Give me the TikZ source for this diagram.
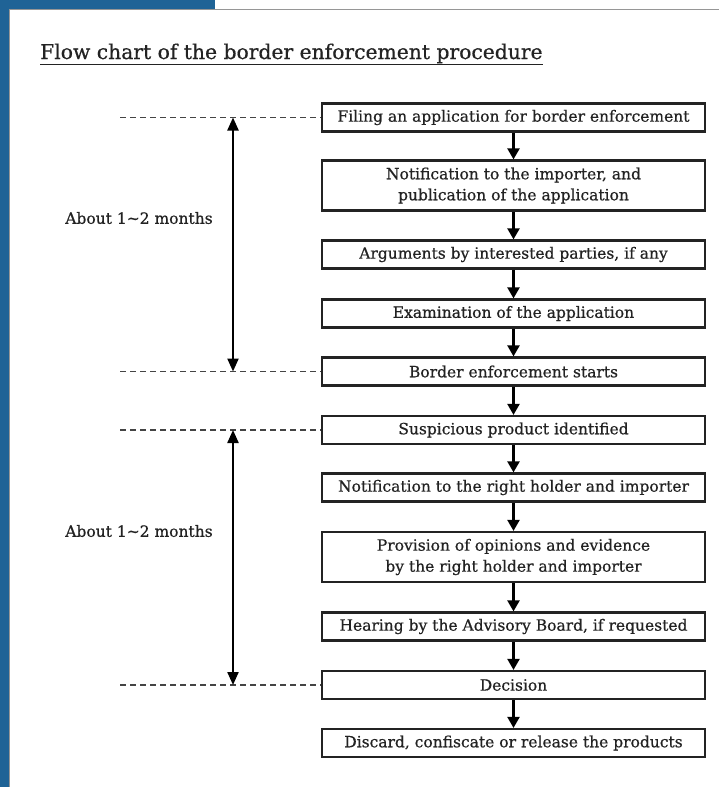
\documentclass[tikz,border=0pt]{standalone}
\usepackage{fontspec}
\setmainfont{DejaVu Serif}[BoldFont={DejaVu Serif},BoldFeatures={FakeBold=0.6}]
\usetikzlibrary{arrows.meta}
\definecolor{frameblue}{RGB}{31,99,150}
\definecolor{framegray}{RGB}{150,150,150}
\definecolor{inkgray}{RGB}{35,35,35}
\tikzset{
  stepbox/.style={draw=inkgray, line width=2.2pt, fill=white, minimum width=383pt,
    inner sep=0pt, align=center, font=\fontsize{15.5}{21}\selectfont\bfseries, text=inkgray},
  onebox/.style={stepbox, minimum height=28pt},
  twobox/.style={stepbox, minimum height=50pt},
  flow/.style={line width=2.2pt, -{Triangle[width=12pt,length=11pt]}},
  span/.style={line width=2.2pt, {Triangle[width=11pt,length=13pt]}-{Triangle[width=11pt,length=13pt]}},
  guide/.style={draw=inkgray!85, line width=1.5pt, dash pattern=on 6pt off 4pt},
  sidelabel/.style={font=\fontsize{15.5}{17}\selectfont\bfseries, text=inkgray}
}
\begin{document}
\begin{tikzpicture}[x=1pt,y=-1pt]
  \useasboundingbox (0,0) rectangle (719,787);
  % page frame
  \fill[white] (0,0) rectangle (719,787);
  \fill[frameblue] (0,0) rectangle (9,787);
  \fill[frameblue] (0,0) rectangle (215,9);
  \draw[framegray, line width=1.2pt] (9.6,787) -- (9.6,9.6) -- (719,9.6);

  % title
  \node[anchor=base west, inner sep=0pt, font=\fontsize{20.3}{22}\selectfont\bfseries, text=inkgray]
    (title) at (40,59) {\underline{Flow chart of the border enforcement procedure}};

  % procedure steps
  \node[onebox] (b1) at (513.5,117.5) {Filing an application for border enforcement};
  \node[twobox] (b2) at (513.5,185.5) {Notification to the importer, and\\publication of the application};
  \node[onebox] (b3) at (513.5,254.5) {Arguments by interested parties, if any};
  \node[onebox] (b4) at (513.5,313.5) {Examination of the application};
  \node[onebox] (b5) at (513.5,371.5) {Border enforcement starts};
  \node[onebox] (b6) at (513.5,430) {Suspicious product identified};
  \node[onebox] (b7) at (513.5,487.5) {Notification to the right holder and importer};
  \node[twobox] (b8) at (513.5,557) {Provision of opinions and evidence\\by the right holder and importer};
  \node[onebox] (b9) at (513.5,626.5) {Hearing by the Advisory Board, if requested};
  \node[onebox] (b10) at (513.5,685) {Decision};
  \node[onebox] (b11) at (513.5,743) {Discard, confiscate or release the products};

  \foreach \a/\b in {b1/b2,b2/b3,b3/b4,b4/b5,b5/b6,b6/b7,b7/b8,b8/b9,b9/b10,b10/b11}
    \draw[flow] (\a.south) -- (\b.north);

  % time spans
  \coordinate (g1) at (120,117.5);
  \coordinate (g2) at (120,371.5);
  \coordinate (g3) at (120,430);
  \coordinate (g4) at (120,685);
  \draw[guide] (g1) -- (b1.west);
  \draw[guide] (g2) -- (b5.west);
  \draw[guide] (g3) -- (b6.west);
  \draw[guide] (g4) -- (b10.west);

  \coordinate (s1) at (233,117.5);
  \coordinate (s2) at (233,371.5);
  \coordinate (s3) at (233,430);
  \coordinate (s4) at (233,685);
  \draw[span] (s1) -- (s2);
  \draw[span] (s3) -- (s4);

  \node[sidelabel] (l1) at (139,218) {About 1\textasciitilde 2 months};
  \node[sidelabel] (l2) at (139,531) {About 1\textasciitilde 2 months};
\end{tikzpicture}
\end{document}
